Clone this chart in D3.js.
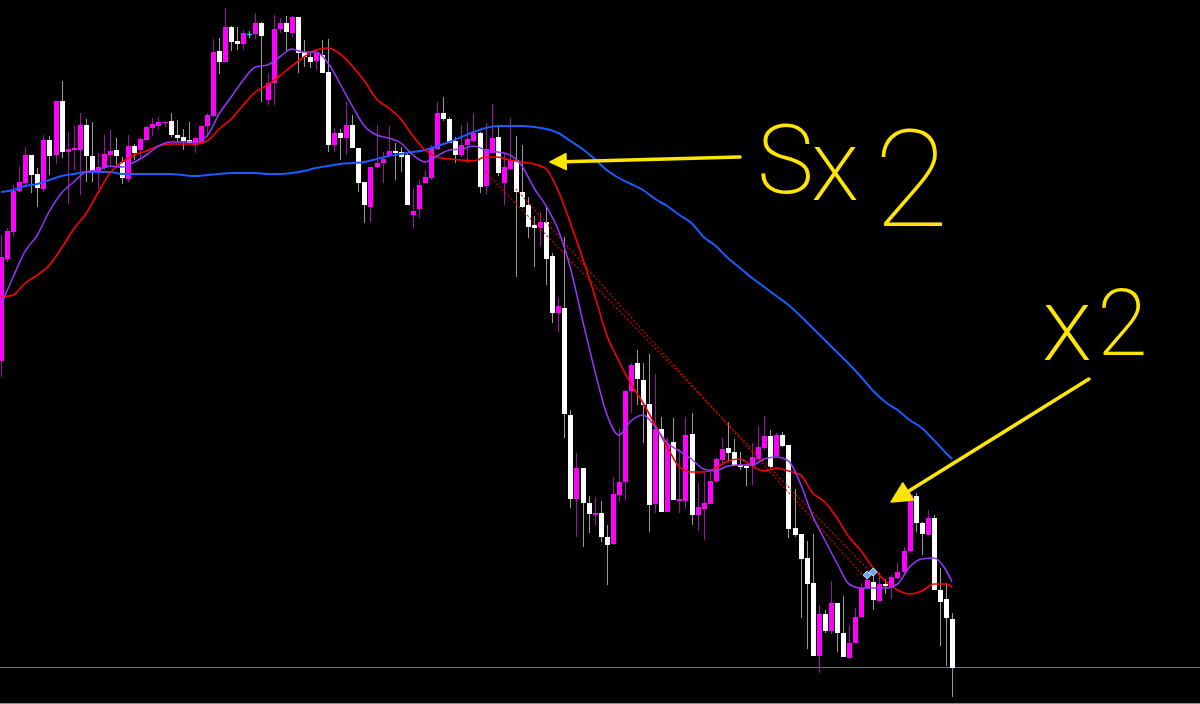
<!DOCTYPE html>
<html><head><meta charset="utf-8">
<script src="https://cdn.jsdelivr.net/npm/d3@7"></script>
<style>html,body{margin:0;padding:0;background:#000;overflow:hidden}</style>
</head><body><svg id="c" width="1200" height="704"></svg>
<script>
// ---- candle data (price units, bar index 0..157) ----
const opens=[343,445,472,513,521,549,530,515,564,549,603,552,554,554,579,548,532,536,549,554,542,525,558,554,564,576,578,581,583,569,567,564,559,561,578,588,653,642,677,663,660,670,670,681,604,621,675,681,671,687,652,647,643,649,632,559,571,566,579,556,522,497,537,541,548,553,552,549,489,495,521,526,555,591,585,563,549,559,563,571,518,551,567,521,535,544,512,499,479,476,482,448,391,396,289,205,236,201,189,191,167,160,209,222,313,341,324,300,200,275,192,262,203,203,270,189,195,200,223,244,256,252,239,238,238,245,256,268,248,269,259,176,170,146,121,48,90,73,101,71,46,61,87,116,122,103,120,117,126,132,153,208,181,169,186,114,105,85];
const highs=[469,476,519,538,557,549,536,569,568,603,623,572,578,591,585,582,551,569,574,566,547,569,560,566,578,586,587,583,591,584,575,582,566,579,591,665,666,696,678,677,674,673,691,682,631,689,686,688,688,687,664,651,654,664,665,576,575,602,589,556,522,537,579,552,578,561,557,551,516,524,534,559,602,607,587,567,579,581,591,572,581,600,577,551,586,568,559,507,488,492,497,451,407,467,294,251,236,208,207,203,179,227,275,314,341,354,341,350,330,287,267,286,255,287,291,221,231,235,246,266,282,265,252,240,261,278,288,274,271,272,259,215,170,163,170,99,94,123,101,108,79,96,121,131,136,132,125,129,141,157,211,211,182,194,189,136,121,91];
const lows=[327,442,467,512,519,511,497,512,529,540,546,500,534,509,522,522,515,534,538,539,520,522,544,547,563,568,574,577,567,563,554,560,551,560,567,587,630,642,653,654,654,666,665,602,599,599,671,652,667,631,637,636,634,631,552,552,544,549,556,512,481,482,536,521,547,524,532,499,476,486,521,524,555,583,561,541,547,541,562,511,509,551,528,499,534,427,496,466,437,457,419,381,372,266,196,167,157,171,179,162,119,159,202,204,291,299,261,172,191,192,192,204,191,196,179,173,164,200,221,241,242,239,234,218,219,244,254,236,247,257,166,167,86,55,48,31,71,70,52,47,45,61,86,115,94,102,110,105,125,131,151,172,149,169,114,58,38,7];
const closes=[447,473,513,522,549,529,516,564,548,603,552,555,556,579,548,532,537,550,553,548,526,558,551,565,577,580,582,582,569,566,563,561,566,578,589,652,642,677,662,660,671,670,681,668,621,675,681,672,687,651,647,642,651,631,559,571,566,579,556,521,499,537,541,545,553,551,547,499,493,519,527,556,591,585,561,549,559,565,571,517,555,566,531,537,544,512,497,477,476,482,445,391,398,290,205,236,201,190,191,167,159,210,222,313,339,325,299,199,275,192,260,204,205,269,189,197,201,223,245,255,251,239,237,236,247,257,268,237,269,258,175,169,145,120,48,90,73,101,71,47,61,87,116,124,104,120,118,127,132,153,209,181,170,186,114,102,86,36];
const crossBars=[41];           // doji drawn as cyan cross

// ---- moving averages, read at these bar indices ----
const maIndex=[0,2,4,6,8,10,12,14,16,18,20,22,24,26,28,30,32,34,36,38,40,42,44,46,48,50,52,54,56,58,60,62,64,66,68,70,72,74,76,78,80,82,84,86,88,90,92,94,96,98,100,102,104,106,108,110,112,114,116,118,120,122,124,126,128,130,132,134,136,138,140,142,144,146,148,150,152,154,156,157];
const maFast=[399,427,453,469,493,511,522,532,534,538,537,542,549,558,562,562,562,568,590,607,624,637,639,647,655,652,652,641,620,598,578,569,566,561,549,542,548,554,555,558,554,552,549,538,516,498,474,436,384,334,290,269,283,289,277,261,253,245,235,233,238,239,239,245,247,243,220,188,164,141,120,116,116,116,120,137,145,146,134,122];
const maMid=[407,409,421,429,439,456,475,490,511,531,542,549,553,558,560,560,560,563,575,585,599,612,619,628,638,647,654,656,650,638,623,605,596,585,568,554,547,545,544,543,547,547,544,542,540,535,513,481,446,409,369,343,320,301,279,257,237,232,232,236,243,245,238,233,236,233,229,211,202,186,167,153,136,123,114,110,113,120,120,117];
const maSlow=[512,514,518,520,524,528,530,532,532,532,530,530,530,530,530,529,528,529,530,531,531,531,530,530,531,533,536,538,540,541,542,545,548,550,552,554,558,562,567,572,576,578,578,578,577,575,571,563,555,545,534,526,520,514,505,498,489,481,467,458,446,436,426,417,408,399,388,376,364,352,340,327,313,302,294,284,276,264,251,245];

// ---- drawn objects ----
const trendLines=[[[80,532],[144,129]],[[85,515],[143,124]]];
const levelPrice=37;
const markers=[[143,129],[144,132]];
const arrows=[{from:[122.0,547],to:[90.65,542],head:16},{from:[179.6,325],to:[146.95,202],head:20}];
const notes=[
  [{t:'S',x:757,y:193,s:96,w:200},{t:'x',x:811,y:200,s:100,w:200},{t:'2',x:874,y:226,s:136,w:100}],
  [{t:'x',x:1042,y:360,s:104,w:200},{t:'2',x:1097,y:355,s:92,w:200}]
];

const W=1200,H=704;
const svg=d3.select('#c');
svg.append('rect').attr('width',W).attr('height',H).attr('fill','#000');
const x=d3.scaleLinear().domain([0,157]).range([1,952]);
const y=d3.scaleLinear().domain([0,704]).range([704,0]);

// level line
svg.append('line').attr('x1',0).attr('x2',W)
  .attr('y1',Math.round(y(levelPrice))+0.5).attr('y2',Math.round(y(levelPrice))+0.5)
  .attr('stroke','#6a7682').attr('stroke-width',1.2);
svg.append('line').attr('x1',0).attr('x2',W).attr('y1',H-0.5).attr('y2',H-0.5)
  .attr('stroke','#8a9096').attr('stroke-width',1);

// candles
const bars=d3.range(opens.length).map(i=>({i,o:opens[i],h:highs[i],l:lows[i],c:closes[i]}));
const gC=svg.append('g').attr('shape-rendering','crispEdges');
bars.forEach(d=>{
  const cx=Math.round(x(d.i));
  const up=d.c>=d.o;
  const cross=crossBars.includes(d.i);
  const wickCol=cross?'#00e5ff':(up?'#9a10a8':'#9a9a9a');
  const bodyCol=cross?'#00e5ff':(up?'#ff00ff':'#ffffff');
  gC.append('line').attr('x1',cx+0.5).attr('x2',cx+0.5)
    .attr('y1',Math.round(y(d.h))).attr('y2',Math.round(y(d.l)))
    .attr('stroke',wickCol).attr('stroke-width',1);
  const top=Math.round(y(Math.max(d.o,d.c))),bot=Math.round(y(Math.min(d.o,d.c)));
  gC.append('rect').attr('x',cx-2).attr('width',5)
    .attr('y',top).attr('height',Math.max(1,bot-top)).attr('fill',bodyCol);
});

// trend lines (dotted)
trendLines.forEach(t=>{
  svg.append('line').attr('x1',x(t[0][0])).attr('y1',y(t[0][1]))
    .attr('x2',x(t[1][0])).attr('y2',y(t[1][1]))
    .attr('stroke','#e00000').attr('stroke-width',1.1).attr('stroke-dasharray','2,2');
});

// moving averages
const line=d3.line().x(d=>x(d[0])).y(d=>y(d[1])).curve(d3.curveMonotoneX);
[[maSlow,'#1a5cff',2],[maMid,'#ff0000',1.6],[maFast,'#9a35ff',1.5]].forEach(([v,col,w])=>{
  svg.append('path').datum(maIndex.map((k,j)=>[k,v[j]])).attr('d',line)
    .attr('fill','none').attr('stroke',col).attr('stroke-width',w).attr('stroke-linejoin','round');
});

// markers
markers.forEach(m=>{
  const mx=x(m[0]),my=y(m[1]);
  svg.append('path').attr('d',`M${mx},${my-4}L${mx+4},${my}L${mx},${my+4}L${mx-4},${my}Z`)
    .attr('fill','#5fa8ff').attr('stroke','#cfe6ff').attr('stroke-width',1);
});

// arrows
const yellow='#ffe600';
arrows.forEach(a=>{
  const x1=x(a.from[0]),y1=y(a.from[1]),x2=x(a.to[0]),y2=y(a.to[1]);
  const dx=x2-x1,dy=y2-y1,len=Math.hypot(dx,dy),ux=dx/len,uy=dy/len;
  const bx=x2-ux*a.head,by=y2-uy*a.head,hw=a.head*0.5;
  svg.append('line').attr('x1',x1).attr('y1',y1).attr('x2',bx+ux*2).attr('y2',by+uy*2)
    .attr('stroke',yellow).attr('stroke-width',3.5).attr('stroke-linecap','round');
  svg.append('path').attr('d',`M${x2},${y2}L${bx-uy*hw},${by+ux*hw}L${bx+uy*hw},${by-ux*hw}Z`)
    .attr('fill',yellow).attr('stroke',yellow).attr('stroke-width',1.5).attr('stroke-linejoin','round');
});

// handwritten notes
notes.forEach(n=>{
  const t=svg.append('text').attr('fill',yellow)
    .style('font-family','Roboto, Lato, "Open Sans", sans-serif');
  n.forEach(g=>t.append('tspan').attr('x',g.x).attr('y',g.y)
    .style('font-size',g.s+'px').style('font-weight',g.w).text(g.t));
});
</script></body></html>
